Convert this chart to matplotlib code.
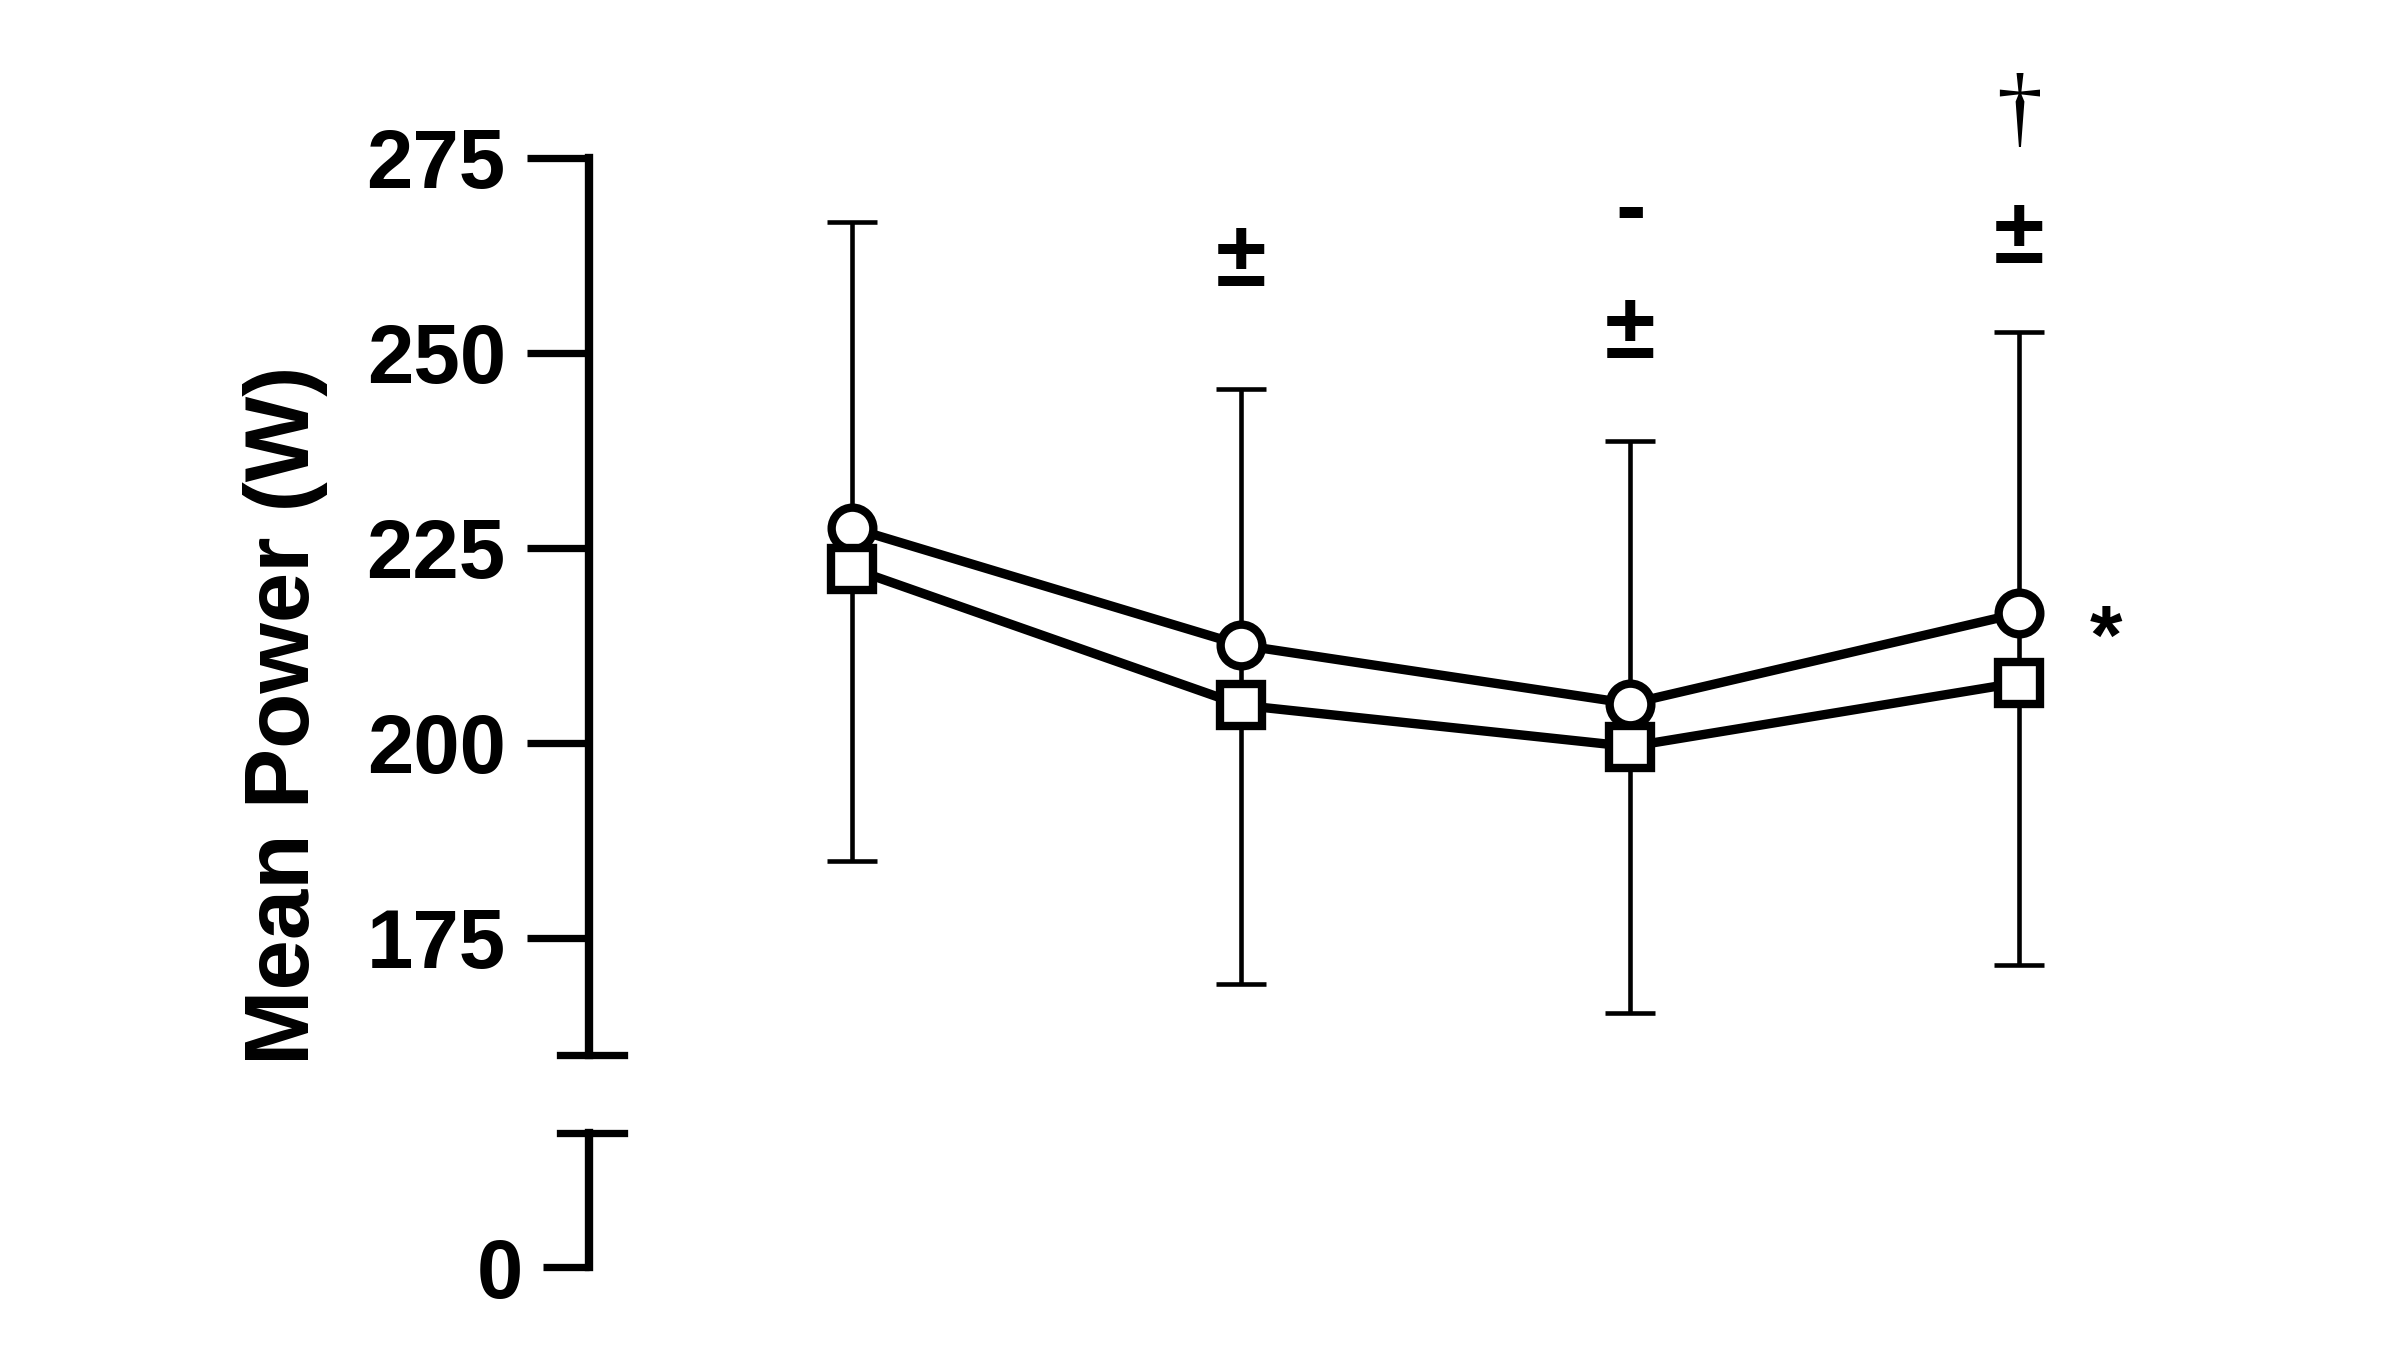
import matplotlib.pyplot as plt
import numpy as np

plt.rcParams['font.family'] = ['Liberation Sans', 'DejaVu Sans']

# four time points, two conditions (circles / squares)
x = [1, 2, 3, 4]
circle_mean = [227.5, 212.5, 205.0, 216.6]
circle_sd = [39.3, 32.9, 33.7, 36.0]   # drawn upward
square_mean = [222.3, 204.8, 199.5, 207.7]
square_sd = [37.5, 35.7, 34.1, 36.2]   # drawn downward

upper_ticks = [175, 200, 225, 250, 275]
lower_ticks = [0]

# significance marks
marks = ['±', '±', '-', '±', '†', '*']
mark_x = [2, 3, 3, 4, 4, 4.224]
mark_y = [262.9, 253.6, 269.1, 265.8, 281.9, 214.0]

fig = plt.figure(figsize=(16, 9), dpi=150)
ax = fig.add_axes([0.2455, 0.2188, 0.7255, 0.6644])
ax0 = fig.add_axes([0.2455, 0.0613, 0.7255, 0.0997])

for a in (ax, ax0):
    for s in ('top', 'right', 'bottom'):
        a.spines[s].set_visible(False)
    a.spines['left'].set_linewidth(4)
    a.set_xlim(0.323, 4.8)
    a.set_xticks([])
    a.patch.set_alpha(0)

ax.set_ylim(160, 275)
ax.set_yticks(upper_ticks)
ax.tick_params(axis='y', length=30, width=3.5, pad=10, labelsize=40)
ax0.set_ylim(0, 17.25)
ax0.set_yticks(lower_ticks)
ax0.tick_params(axis='y', length=22, width=3.5, pad=10, labelsize=40)
for a in (ax, ax0):
    for lab in a.get_yticklabels():
        lab.set_fontweight('bold')

# one bar per time point: square - SD up to circle + SD
cm = np.array(circle_mean)
sm = np.array(square_mean)
lo = np.array(square_sd)
hi = cm + np.array(circle_sd) - sm
ax.errorbar(x, sm, yerr=[lo, hi], fmt='none', ecolor='black',
            elinewidth=2.2, capsize=12, capthick=2.2, zorder=1)

ax.plot(x, circle_mean, '-o', color='black', mfc='white', ms=20, mew=4,
        lw=4.5, zorder=3, clip_on=False)
ax.plot(x, square_mean, '-s', color='black', mfc='white', ms=20, mew=4,
        lw=4.5, zorder=4, clip_on=False)

# axis break marks
ax.plot([-0.017, 0.020], [0, 0], transform=ax.transAxes, clip_on=False,
        color='black', lw=3.5)
ax0.plot([-0.017, 0.020], [1, 1], transform=ax0.transAxes, clip_on=False,
         color='black', lw=3.5)

style = {'±': dict(fontsize=44, fontweight='bold'),
         '-': dict(fontsize=44, fontweight='bold'),
         '†': dict(fontsize=44, fontweight='normal', family='Liberation Serif'),
         '*': dict(fontsize=40, fontweight='bold')}
for m, mx, my in zip(marks, mark_x, mark_y):
    ax.text(mx, my, m, ha='center', va='center_baseline', clip_on=False,
            **style[m])

fig.text(0.119, 0.47, 'Mean Power (W)', rotation=90, ha='center',
         va='center', fontsize=43.5, fontweight='bold')

fig.savefig('out.png', dpi=150, facecolor='white')
